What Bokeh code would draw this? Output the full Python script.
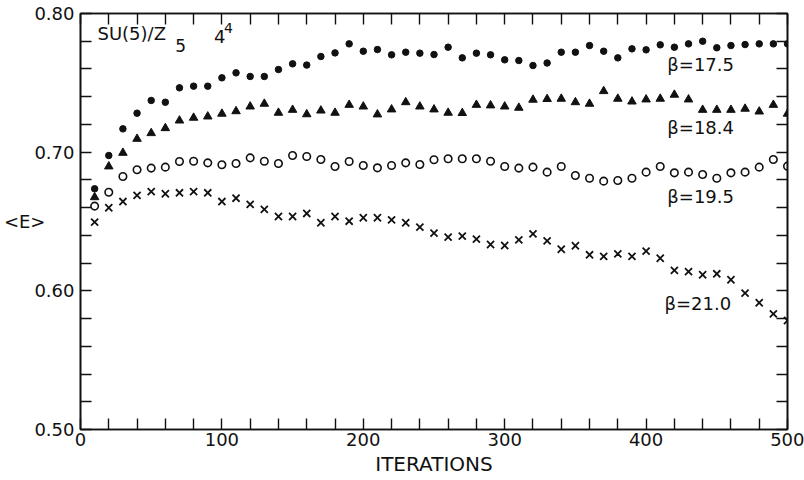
from bokeh.plotting import figure
from bokeh.models import Label, LinearAxis, FixedTicker, Range1d
from bokeh.embed import file_html
from bokeh.resources import INLINE

iterations = list(range(10, 510, 10))

e_beta_175 = [0.6736, 0.6976, 0.7168, 0.7281, 0.7373, 0.7360, 0.7464, 0.7476, 0.7476, 0.7536,
              0.7572, 0.7546, 0.7546, 0.7596, 0.7637, 0.7628, 0.7690, 0.7716, 0.7781, 0.7728,
              0.7740, 0.7702, 0.7721, 0.7714, 0.7704, 0.7757, 0.7680, 0.7714, 0.7702, 0.7666,
              0.7661, 0.7625, 0.7643, 0.7721, 0.7721, 0.7769, 0.7728, 0.7680, 0.7745, 0.7738,
              0.7774, 0.7757, 0.7781, 0.7800, 0.7753, 0.7769, 0.7776, 0.7781, 0.7781, 0.7781]

e_beta_184 = [0.6675, 0.6897, 0.6995, 0.7096, 0.7137, 0.7173, 0.7228, 0.7248, 0.7257, 0.7277,
              0.7295, 0.7329, 0.7349, 0.7284, 0.7305, 0.7273, 0.7300, 0.7284, 0.7341, 0.7329,
              0.7272, 0.7308, 0.7360, 0.7329, 0.7308, 0.7284, 0.7282, 0.7341, 0.7337, 0.7329,
              0.7320, 0.7378, 0.7383, 0.7385, 0.7360, 0.7349, 0.7440, 0.7385, 0.7365, 0.7380,
              0.7385, 0.7414, 0.7380, 0.7305, 0.7305, 0.7305, 0.7313, 0.7293, 0.7341, 0.7277]

e_beta_195 = [0.6611, 0.6711, 0.6825, 0.6873, 0.6885, 0.6892, 0.6933, 0.6935, 0.6923, 0.6909,
              0.6918, 0.6959, 0.6935, 0.6918, 0.6976, 0.6969, 0.6947, 0.6897, 0.6933, 0.6904,
              0.6887, 0.6904, 0.6923, 0.6911, 0.6945, 0.6952, 0.6952, 0.6952, 0.6935, 0.6897,
              0.6885, 0.6892, 0.6856, 0.6897, 0.6832, 0.6812, 0.6791, 0.6796, 0.6812, 0.6856,
              0.6897, 0.6851, 0.6856, 0.6839, 0.6812, 0.6851, 0.6856, 0.6892, 0.6947, 0.6899]

e_beta_210 = [0.6495, 0.6599, 0.6644, 0.6688, 0.6716, 0.6700, 0.6707, 0.6716, 0.6707, 0.6644,
              0.6668, 0.6623, 0.6587, 0.6536, 0.6536, 0.6558, 0.6491, 0.6536, 0.6502, 0.6527,
              0.6527, 0.6512, 0.6491, 0.6459, 0.6416, 0.6387, 0.6394, 0.6373, 0.6334, 0.6327,
              0.6368, 0.6411, 0.6360, 0.6300, 0.6325, 0.6260, 0.6248, 0.6267, 0.6248, 0.6286,
              0.6235, 0.6147, 0.6139, 0.6116, 0.6123, 0.6080, 0.5983, 0.5914, 0.5834, 0.5786]

x_major_ticks = [0, 100, 200, 300, 400, 500]
x_minor_ticks = [t for t in range(0, 520, 20) if t % 100 != 0]
y_major_ticks = [0.50, 0.60, 0.70, 0.80]
y_minor_ticks = [0.52, 0.54, 0.56, 0.58, 0.62, 0.64, 0.66, 0.68, 0.72, 0.74, 0.76, 0.78]

FONT = "DejaVu Sans"
INK = "#111111"

p = figure(width=804, height=480, output_backend="svg", toolbar_location=None,
           x_range=Range1d(0, 500), y_range=Range1d(0.50, 0.80),
           min_border_left=78, min_border_right=17, min_border_top=13, min_border_bottom=51,
           x_axis_label="ITERATIONS", y_axis_label="<E>")
p.grid.visible = False
p.outline_line_color = INK
p.outline_line_width = 1.6
p.background_fill_color = "white"
p.border_fill_color = "white"

def style_axis(ax, major, minor, labels=True):
    ax.ticker = FixedTicker(ticks=major, minor_ticks=minor)
    ax.major_tick_in = 11
    ax.major_tick_out = 0
    ax.minor_tick_in = 11
    ax.minor_tick_out = 0
    ax.axis_line_color = INK
    ax.axis_line_width = 1.6
    ax.major_tick_line_color = INK
    ax.minor_tick_line_color = INK
    ax.major_tick_line_width = 1.4
    ax.minor_tick_line_width = 1.4
    ax.major_label_text_font = FONT
    ax.major_label_text_font_size = "18px"
    ax.major_label_text_color = INK
    ax.axis_label_text_font = FONT
    ax.axis_label_text_font_size = "20px"
    ax.axis_label_text_font_style = "normal"
    ax.axis_label_text_color = INK
    if not labels:
        ax.major_label_overrides = {t: "" for t in major}
        ax.major_label_standoff = 0

style_axis(p.xaxis[0], x_major_ticks, x_minor_ticks)
style_axis(p.yaxis[0], y_major_ticks, y_minor_ticks)
p.xaxis[0].major_label_standoff = 3
p.xaxis[0].axis_label_standoff = 3
p.xaxis[0].major_label_overrides = {t: str(t) for t in x_major_ticks}
p.yaxis[0].major_label_overrides = {t: f"{t:.2f}" for t in y_major_ticks}
p.yaxis[0].major_label_standoff = 6
p.yaxis[0].axis_label_orientation = "horizontal"
p.yaxis[0].axis_label_text_font_size = "18px"
p.yaxis[0].axis_label_standoff = -14

top = LinearAxis()
style_axis(top, x_major_ticks, x_minor_ticks, labels=False)
p.add_layout(top, "above")
right = LinearAxis()
style_axis(right, y_major_ticks, y_minor_ticks, labels=False)
p.add_layout(right, "right")

p.scatter(iterations, e_beta_175, marker="circle", size=6.5, fill_color=INK, line_color=INK)
p.scatter(iterations, e_beta_184, marker="triangle", size=8.5, fill_color=INK, line_color=INK)
p.scatter(iterations, e_beta_195, marker="circle", size=7.5, fill_color=None, line_color=INK, line_width=1.6)
p.scatter(iterations, e_beta_210, marker="x", size=10, line_color=INK, line_width=1.8)

def lab(x, y, text, size="18px"):
    p.add_layout(Label(x=x, y=y, text=text,
                       text_font=FONT, text_font_size=size, text_color=INK,
                       text_baseline="middle", text_align="left"))

lab(415, 0.7632, "β=17.5")
lab(415, 0.7178, "β=18.4")
lab(415, 0.6680, "β=19.5")
lab(413, 0.5909, "β=21.0")

lab(12, 0.7859, "SU(5)/Z")
lab(67, 0.7769, "5", size="17px")
lab(94.5, 0.7834, "4")
lab(101.5, 0.7895, "4", size="14px")

open("out.html", "w").write(file_html(p, INLINE))
